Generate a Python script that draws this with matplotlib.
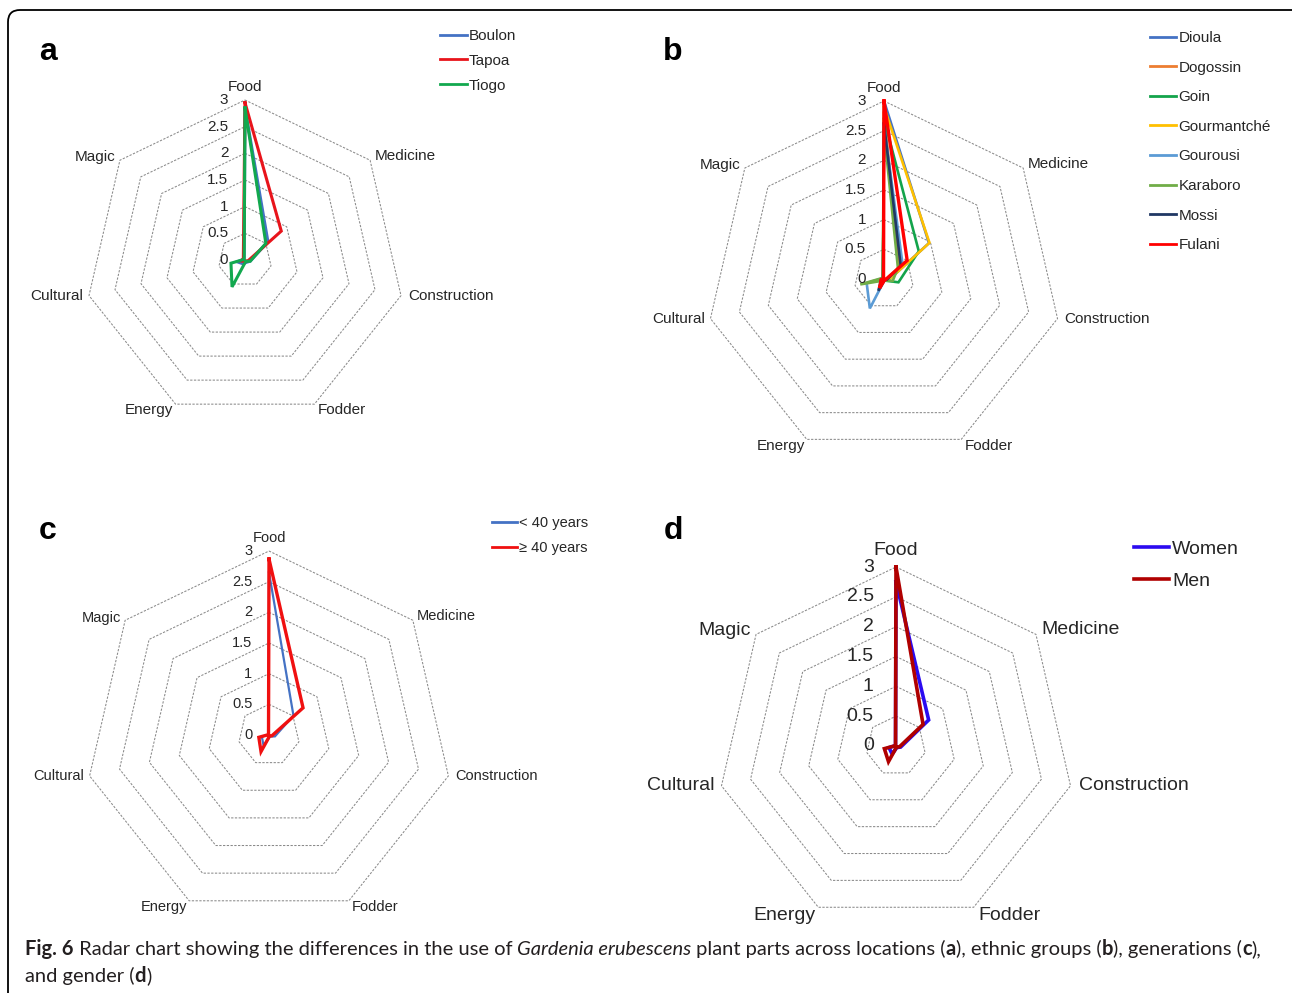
import numpy as np
import matplotlib
matplotlib.use('Agg')
import matplotlib.pyplot as plt
from matplotlib.patches import FancyBboxPatch
from matplotlib.transforms import IdentityTransform

# ---------------- data ----------------
categories = ['Food', 'Medicine', 'Construction', 'Fodder', 'Energy', 'Cultural', 'Magic']
ring_values = [0.5, 1, 1.5, 2, 2.5, 3]
tick_values = [0, 0.5, 1, 1.5, 2, 2.5, 3]
tick_labels = ['0', '0.5', '1', '1.5', '2', '2.5', '3']

# (a) locations
loc_names = ['Boulon', 'Tapoa', 'Tiogo']
boulon = [2.85, 0.55, 0.10, 0.05, 0.08, 0.15, 0.02]
tapoa = [2.95, 0.87, 0.06, 0.02, 0.03, 0.08, 0.04]
tiogo = [2.85, 0.50, 0.10, 0.03, 0.56, 0.27, 0.02]
loc_colors = ['#4472C4', '#E8141B', '#12A84E']

# (b) ethnic groups
eth_names = ['Dioula', 'Dogossin', 'Goin', 'Gourmantché', 'Gourousi', 'Karaboro', 'Mossi', 'Fulani']
dioula = [3.00, 0.97, 0.08, 0.03, 0.05, 0.05, 0.02]
dogossin = [2.80, 0.33, 0.05, 0.02, 0.10, 0.05, 0.02]
goin = [2.70, 0.75, 0.25, 0.03, 0.02, 0.05, 0.02]
gourmantche = [2.90, 0.98, 0.08, 0.02, 0.03, 0.05, 0.02]
gourousi = [2.60, 0.40, 0.05, 0.02, 0.55, 0.30, 0.02]
karaboro = [2.50, 0.30, 0.15, 0.02, 0.03, 0.41, 0.03]
mossi = [2.62, 0.36, 0.05, 0.02, 0.22, 0.05, 0.02]
fulani = [3.00, 0.50, 0.03, 0.02, 0.17, 0.05, 0.01]
eth_colors = ['#4472C4', '#ED7D31', '#13A44B', '#FFC000', '#5B9BD5', '#70AD47', '#203864', '#FF0000']

# (c) generations
gen_names = ['< 40 years', '≥ 40 years']
under40 = [2.65, 0.51, 0.10, 0.03, 0.20, 0.12, 0.01]
over40 = [2.87, 0.71, 0.05, 0.02, 0.30, 0.17, 0.01]
gen_colors = ['#4472C4', '#F01010']

# (d) gender
gender_names = ['Women', 'Men']
women = [2.75, 0.70, 0.08, 0.03, 0.15, 0.12, 0.01]
men = [3.00, 0.58, 0.06, 0.02, 0.29, 0.20, 0.01]
gender_colors = ['#2B0BF0', '#B00000']

caption_line1 = [('Fig. 6', 'bold', 'normal'),
                 (' Radar chart showing the differences in the use of ', 'normal', 'normal'),
                 ('Gardenia erubescens', 'normal', 'italic'),
                 (' plant parts across locations (', 'normal', 'normal'),
                 ('a', 'bold', 'normal'),
                 ('), ethnic groups (', 'normal', 'normal'),
                 ('b', 'bold', 'normal'),
                 ('), generations (', 'normal', 'normal'),
                 ('c', 'bold', 'normal'),
                 ('),', 'normal', 'normal')]
caption_line2 = [('and gender (', 'normal', 'normal'),
                 ('d', 'bold', 'normal'),
                 (')', 'normal', 'normal')]

# ---------------- figure ----------------
W, H, DPI = 1292, 993, 100
plt.rcParams['font.family'] = ['Liberation Sans', 'DejaVu Sans']
fig = plt.figure(figsize=(W / DPI, H / DPI), dpi=DPI)
fig.patch.set_facecolor('white')

# border
border = FancyBboxPatch((8, -30), 1320, H - 10 + 30, boxstyle='round,pad=0,rounding_size=12',
                        transform=IdentityTransform(), facecolor='none', edgecolor='black',
                        linewidth=1.3)
fig.add_artist(border)

n = len(categories)
theta = np.arange(n) * 2 * np.pi / n
theta_closed = np.append(theta, theta[0])

label_align = [('center', 'bottom'), ('left', 'center'), ('left', 'center'), ('left', 'center'),
               ('right', 'center'), ('right', 'center'), ('right', 'center')]
label_off = [(0, 4.5), (3, 3), (5, 0), (2.5, -4.5), (-1.5, -4.5), (-4, 0), (-3, 2)]


def radar(cx, cy, R, series, names, colors, widths, fs, tick_off, letter, legend_xy,
          leg_fs, leg_space, leg_hl, leg_lw):
    ax = fig.add_axes([(cx - R) / W, 1 - (cy + R) / H, 2 * R / W, 2 * R / H], projection='polar')
    ax.set_theta_zero_location('N')
    ax.set_theta_direction(-1)
    ax.set_ylim(0, 3)
    ax.grid(False)
    ax.set_xticks([])
    ax.set_yticks([])
    ax.spines['polar'].set_visible(False)
    ax.patch.set_alpha(0)
    for r in ring_values:
        ax.plot(theta_closed, [r] * (n + 1), color='#8a8a8a', lw=0.75,
                ls=(0, (2.2, 1.4)), zorder=1, clip_on=False)
    for vals, nm, c, lw in zip(series, names, colors, widths):
        v = list(vals) + [vals[0]]
        ax.plot(theta_closed, v, color=c, lw=lw, zorder=3, clip_on=False,
                solid_joinstyle='miter', label=nm)
    sc = fs / 11.0
    for i, cat in enumerate(categories):
        ha, va = label_align[i]
        ax.annotate(cat, xy=(theta[i], 3), xytext=(label_off[i][0] * sc, label_off[i][1] * sc),
                    textcoords='offset points', ha=ha, va=va, fontsize=fs, color='#262626',
                    annotation_clip=False)
    for tv, tl in zip(tick_values, tick_labels):
        ax.annotate(tl, xy=(0, tv), xytext=(-tick_off, 0), textcoords='offset points',
                    ha='right', va='center', fontsize=fs, color='#262626', annotation_clip=False)
    fig.text(letter[1] / W, 1 - letter[2] / H, letter[0], fontsize=23, fontweight='bold',
             ha='center', va='center', family=['Liberation Sans', 'DejaVu Sans'])
    leg_handles = [plt.Line2D([], [], color=c, lw=leg_lw) for c in colors]
    lg = fig.legend(leg_handles, names, loc='upper left',
                    bbox_to_anchor=(legend_xy[0] / W, 1 - legend_xy[1] / H),
                    bbox_transform=fig.transFigure, frameon=False, fontsize=leg_fs,
                    handlelength=leg_hl, handletextpad=0.15, labelspacing=leg_space,
                    borderpad=0, borderaxespad=0)
    for t in lg.get_texts():
        t.set_color('#262626')
    return ax


radar(245, 260, 160, [boulon, tapoa, tiogo], loc_names, loc_colors, [2.2, 2.2, 2.2],
      11, 12, ('a', 48, 52), (440, 29), 11, 0.71, 1.75, 2.0)
radar(884, 279, 178, [dioula, dogossin, goin, gourmantche, gourousi, karaboro, mossi, fulani],
      eth_names, eth_colors, [1.9, 1.9, 1.9, 1.9, 1.9, 1.9, 1.9, 2.4],
      11, 13, ('b', 673, 52), (1150, 31), 11, 1.02, 1.7, 2.0)
radar(269, 735, 184, [under40, over40], gen_names, gen_colors, [1.6, 2.4],
      10.5, 12, ('c', 48, 531), (492, 516), 10.5, 0.74, 1.7, 2.0)
radar(896, 746, 179, [women, men], gender_names, gender_colors, [2.6, 2.6],
      14, 16, ('d', 673, 531), (1134, 540), 14, 0.74, 1.8, 2.6)

# ---------------- caption ----------------
cap_family = ['Lato', 'DejaVu Sans']
renderer = fig.canvas.get_renderer()


def place_line(pieces, x0, y, fs, draw=True):
    x = x0
    texts = []
    for s, wgt, sty in pieces:
        t = fig.text(x / W, 1 - y / H, s, fontsize=fs, fontweight=wgt, fontstyle=sty,
                     family=cap_family, color='#231F20', ha='left', va='baseline')
        bb = t.get_window_extent(renderer)
        x += bb.width
        texts.append(t)
    if not draw:
        for t in texts:
            t.remove()
    return x - x0


base = 13.0
wid = place_line(caption_line1, 25, 955, base, draw=False)
fs_cap = base * 1237.0 / wid
place_line(caption_line1, 25, 955, fs_cap)
place_line(caption_line2, 25, 982, fs_cap)

fig.savefig('out.png', dpi=DPI, facecolor='white')
